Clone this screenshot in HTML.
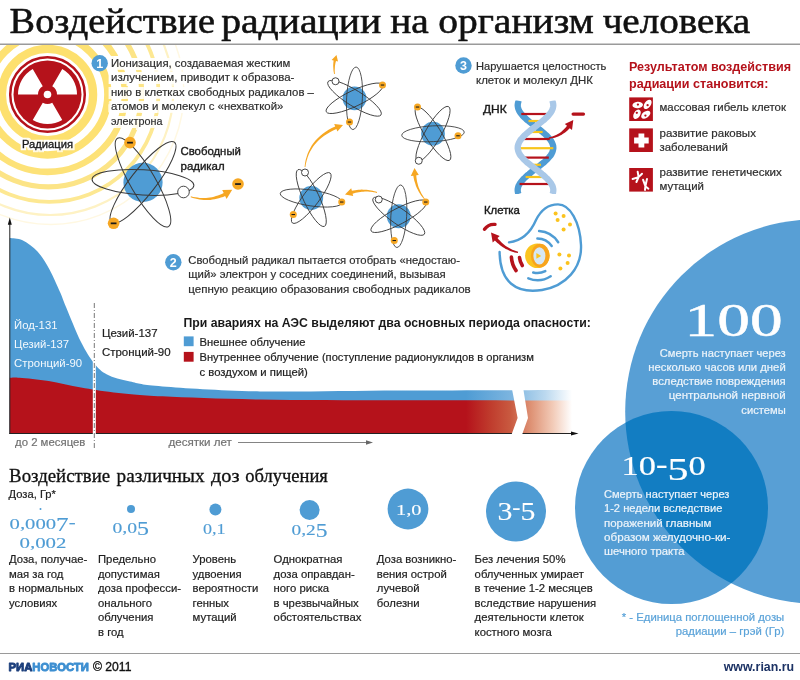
<!DOCTYPE html>
<html lang="ru"><head><meta charset="utf-8"><title>Воздействие радиации на организм человека</title>
<style>
html,body{margin:0;padding:0;background:#fff}
svg{display:block}
.ss{font-family:"Liberation Sans",sans-serif}
.sr{font-family:"Liberation Serif",serif}
</style></head><body>
<svg width="800" height="680" viewBox="0 0 800 680">
<defs>
<clipPath id="cpRings"><rect x="0" y="45" width="330" height="260"/></clipPath>
<filter id="halo" color-interpolation-filters="sRGB" x="-5%" y="-30%" width="110%" height="160%"><feMorphology in="SourceAlpha" operator="dilate" radius="2.2" result="d"/><feFlood flood-color="#fff"/><feComposite in2="d" operator="in" result="h"/><feMerge><feMergeNode in="h"/><feMergeNode in="SourceGraphic"/></feMerge></filter>
<filter id="halo3" color-interpolation-filters="sRGB" x="-5%" y="-40%" width="110%" height="180%"><feMorphology in="SourceAlpha" operator="dilate" radius="2.9" result="d"/><feFlood flood-color="#fff"/><feComposite in2="d" operator="in" result="h"/><feMerge><feMergeNode in="h"/><feMergeNode in="SourceGraphic"/></feMerge></filter>
</defs>
<rect width="800" height="680" fill="#fff"/>
<g clip-path="url(#cpRings)" fill="none">
<circle cx="47.5" cy="94.5" r="45.6" stroke="#fde06e" stroke-width="8.3"/>
<circle cx="47.5" cy="94.5" r="60.4" stroke="#fde172" stroke-width="7.5"/>
<circle cx="47.5" cy="94.5" r="77.4" stroke="#fde278" stroke-width="6.6"/>
<circle cx="48.4" cy="93.6" r="93.3" stroke="#fce486" stroke-width="5.2"/>
<circle cx="49.3" cy="92.7" r="109.2" stroke="#fde892" stroke-width="3.8"/>
<circle cx="50.1" cy="91.9" r="123.1" stroke="#fef2c4" stroke-width="2.2"/>
<circle cx="50.7" cy="91.3" r="133.2" stroke="#fff8e2" stroke-width="1.5"/>
</g>
<text class="sr" y="32.9" font-size="35.3" fill="#111" stroke="#111" stroke-width="0.55"><tspan x="9.6" textLength="205.5" lengthAdjust="spacingAndGlyphs">Воздействие</tspan> <tspan x="221.2" textLength="160" lengthAdjust="spacingAndGlyphs">радиации</tspan> <tspan x="390.2" textLength="38.5" lengthAdjust="spacingAndGlyphs">на</tspan> <tspan x="438.2" textLength="155.5" lengthAdjust="spacingAndGlyphs">организм</tspan> <tspan x="602.7" textLength="147.5" lengthAdjust="spacingAndGlyphs">человека</tspan></text>
<rect x="0" y="43.5" width="800" height="1.5" fill="#9a9a9a"/>
<g>
<circle cx="47.5" cy="94.5" r="37.3" fill="none" stroke="#b5121b" stroke-width="2.5"/>
<circle cx="47.5" cy="94.5" r="34" fill="#b5121b"/>
<path fill="#fff" d="M77.00,94.50 A29.5,29.5 0 0 0 62.25,68.95 L52.25,86.27 A9.5,9.5 0 0 1 57.00,94.50 Z"/>
<path fill="#fff" d="M32.75,68.95 A29.5,29.5 0 0 0 18.00,94.50 L38.00,94.50 A9.5,9.5 0 0 1 42.75,86.27 Z"/>
<path fill="#fff" d="M32.75,120.05 A29.5,29.5 0 0 0 62.25,120.05 L52.25,102.73 A9.5,9.5 0 0 1 42.75,102.73 Z"/>
<circle cx="47.5" cy="94.5" r="3.8" fill="#fff"/>
</g>
<text class="ss" x="47.5" y="148.2" font-size="11.5" fill="#1a1a1a" text-anchor="middle" textLength="50.9" lengthAdjust="spacingAndGlyphs" stroke="#1a1a1a" stroke-width="0.35" filter="url(#halo)">Радиация</text>
<circle cx="99.7" cy="63.3" r="8.2" fill="#4f9cd4"/>
<text class="ss" x="99.7" y="67.7" font-size="12.5" fill="#fff" text-anchor="middle" font-weight="bold" >1</text>
<circle cx="173.3" cy="262.2" r="8.2" fill="#4f9cd4"/>
<text class="ss" x="173.3" y="266.59999999999997" font-size="12.5" fill="#fff" text-anchor="middle" font-weight="bold" >2</text>
<circle cx="463.5" cy="65.5" r="8.2" fill="#4f9cd4"/>
<text class="ss" x="463.5" y="69.9" font-size="12.5" fill="#fff" text-anchor="middle" font-weight="bold" >3</text>
<text class="ss" x="111.0" y="66.9" font-size="11.5" fill="#2e2e2e" textLength="179.4" lengthAdjust="spacingAndGlyphs" stroke="#2e2e2e" stroke-width="0.2" filter="url(#halo3)">Ионизация, создаваемая жестким</text>
<text class="ss" x="111.0" y="81.30000000000001" font-size="11.5" fill="#2e2e2e" textLength="183.4" lengthAdjust="spacingAndGlyphs" stroke="#2e2e2e" stroke-width="0.2" filter="url(#halo3)">излучением, приводит к образова-</text>
<text class="ss" x="111.0" y="95.7" font-size="11.5" fill="#2e2e2e" textLength="202.9" lengthAdjust="spacingAndGlyphs" stroke="#2e2e2e" stroke-width="0.2" filter="url(#halo3)">нию в клетках свободных радикалов –</text>
<text class="ss" x="111.0" y="110.10000000000001" font-size="11.5" fill="#2e2e2e" textLength="172.4" lengthAdjust="spacingAndGlyphs" stroke="#2e2e2e" stroke-width="0.2" filter="url(#halo3)">атомов и молекул с «нехваткой»</text>
<text class="ss" x="111.0" y="124.5" font-size="11.5" fill="#2e2e2e" textLength="51.4" lengthAdjust="spacingAndGlyphs" stroke="#2e2e2e" stroke-width="0.2" filter="url(#halo3)">электрона</text>
<text class="ss" x="188.3" y="263.9" font-size="11.5" fill="#2e2e2e" textLength="271.8" lengthAdjust="spacingAndGlyphs" stroke="#2e2e2e" stroke-width="0.2" >Свободный радикал пытается отобрать «недостаю-</text>
<text class="ss" x="188.3" y="278.2" font-size="11.5" fill="#2e2e2e" textLength="257.4" lengthAdjust="spacingAndGlyphs" stroke="#2e2e2e" stroke-width="0.2" >щий» электрон у соседних соединений, вызывая</text>
<text class="ss" x="188.3" y="292.5" font-size="11.5" fill="#2e2e2e" textLength="282.4" lengthAdjust="spacingAndGlyphs" stroke="#2e2e2e" stroke-width="0.2" >цепную реакцию образования свободных радикалов</text>
<text class="ss" x="476.0" y="69.8" font-size="11.5" fill="#2e2e2e" textLength="130.4" lengthAdjust="spacingAndGlyphs" stroke="#2e2e2e" stroke-width="0.2" >Нарушается целостность</text>
<text class="ss" x="476.0" y="83.9" font-size="11.5" fill="#2e2e2e" textLength="117.0" lengthAdjust="spacingAndGlyphs" stroke="#2e2e2e" stroke-width="0.2" >клеток и молекул ДНК</text>
<circle cx="143" cy="182.4" r="19.6" fill="#4f9cd4"/>
<ellipse cx="143" cy="182.4" rx="51" ry="12.6" fill="none" stroke="#3a3a3a" stroke-width="1.0" transform="rotate(3.5 143 182.4)"/>
<ellipse cx="143" cy="182.4" rx="51" ry="12.6" fill="none" stroke="#3a3a3a" stroke-width="1.0" transform="rotate(60 143 182.4)"/>
<ellipse cx="143" cy="182.4" rx="51" ry="12.6" fill="none" stroke="#3a3a3a" stroke-width="1.0" transform="rotate(-52 143 182.4)"/>
<circle cx="130" cy="142.6" r="5.8" fill="#f6a723"/>
<rect x="127.10" y="141.79" width="5.80" height="1.74" fill="#1a1a1a"/>
<circle cx="113.6" cy="223.3" r="5.8" fill="#f6a723"/>
<rect x="110.70" y="222.49" width="5.80" height="1.74" fill="#1a1a1a"/>
<circle cx="183.5" cy="192" r="5.8" fill="#fff" stroke="#333" stroke-width="0.9"/>
<text class="ss" x="180.5" y="155.4" font-size="11.4" fill="#1a1a1a" textLength="60.4" lengthAdjust="spacingAndGlyphs" stroke="#1a1a1a" stroke-width="0.35">Свободный</text>
<text class="ss" x="180.5" y="170.2" font-size="11.4" fill="#1a1a1a" textLength="44.2" lengthAdjust="spacingAndGlyphs" stroke="#1a1a1a" stroke-width="0.35">радикал</text>
<polygon fill="#f6a723" points="190.7,197.3 192.9,198.0 195.1,198.6 197.3,199.1 199.5,199.5 201.6,199.7 203.8,199.9 206.0,200.0 208.2,200.0 210.3,199.9 212.5,199.6 214.6,199.3 216.7,198.8 218.8,198.3 221.0,197.6 223.1,196.9 225.1,196.0 226.6,199.0 232.2,189.8 222.2,190.0 223.7,192.9 221.8,193.9 219.9,194.7 217.9,195.5 216.0,196.1 214.0,196.7 212.0,197.2 210.0,197.5 208.0,197.8 206.0,198.0 203.9,198.0 201.8,198.0 199.7,197.9 197.5,197.6 195.3,197.3 193.2,196.9 190.9,196.3"/>
<circle cx="238" cy="184" r="5.8" fill="#f6a723"/>
<rect x="235.10" y="183.19" width="5.80" height="1.74" fill="#1a1a1a"/>
<circle cx="354.5" cy="98.3" r="11.9" fill="#4f9cd4"/>
<ellipse cx="354.5" cy="98.3" rx="31.3" ry="7.9" fill="none" stroke="#3a3a3a" stroke-width="0.85" transform="rotate(93 354.5 98.3)"/>
<ellipse cx="354.5" cy="98.3" rx="31.3" ry="7.9" fill="none" stroke="#3a3a3a" stroke-width="0.85" transform="rotate(32 354.5 98.3)"/>
<ellipse cx="354.5" cy="98.3" rx="31.3" ry="7.9" fill="none" stroke="#3a3a3a" stroke-width="0.85" transform="rotate(-25.5 354.5 98.3)"/>
<circle cx="382.5" cy="85" r="3.5" fill="#f6a723"/>
<rect x="380.75" y="84.51" width="3.50" height="1.05" fill="#1a1a1a"/>
<circle cx="349.5" cy="122" r="3.5" fill="#f6a723"/>
<rect x="347.75" y="121.51" width="3.50" height="1.05" fill="#1a1a1a"/>
<circle cx="335.5" cy="81.25" r="3.5" fill="#fff" stroke="#333" stroke-width="0.9"/>
<circle cx="433" cy="133.75" r="11.9" fill="#4f9cd4"/>
<ellipse cx="433" cy="133.75" rx="31.3" ry="7.9" fill="none" stroke="#3a3a3a" stroke-width="0.85" transform="rotate(-3 433 133.75)"/>
<ellipse cx="433" cy="133.75" rx="31.3" ry="7.9" fill="none" stroke="#3a3a3a" stroke-width="0.85" transform="rotate(58 433 133.75)"/>
<ellipse cx="433" cy="133.75" rx="31.3" ry="7.9" fill="none" stroke="#3a3a3a" stroke-width="0.85" transform="rotate(-60 433 133.75)"/>
<circle cx="417.5" cy="107" r="3.5" fill="#f6a723"/>
<rect x="415.75" y="106.51" width="3.50" height="1.05" fill="#1a1a1a"/>
<circle cx="458" cy="135.75" r="3.5" fill="#f6a723"/>
<rect x="456.25" y="135.26" width="3.50" height="1.05" fill="#1a1a1a"/>
<circle cx="418.75" cy="160.75" r="3.5" fill="#fff" stroke="#333" stroke-width="0.9"/>
<circle cx="311.25" cy="198" r="11.9" fill="#4f9cd4"/>
<ellipse cx="311.25" cy="198" rx="31.3" ry="7.9" fill="none" stroke="#3a3a3a" stroke-width="0.85" transform="rotate(8.5 311.25 198)"/>
<ellipse cx="311.25" cy="198" rx="31.3" ry="7.9" fill="none" stroke="#3a3a3a" stroke-width="0.85" transform="rotate(65 311.25 198)"/>
<ellipse cx="311.25" cy="198" rx="31.3" ry="7.9" fill="none" stroke="#3a3a3a" stroke-width="0.85" transform="rotate(-53 311.25 198)"/>
<circle cx="305" cy="172.5" r="3.5" fill="#fff" stroke="#333" stroke-width="0.9"/>
<circle cx="341.75" cy="202" r="3.5" fill="#f6a723"/>
<rect x="340.00" y="201.51" width="3.50" height="1.05" fill="#1a1a1a"/>
<circle cx="293.25" cy="214.5" r="3.5" fill="#f6a723"/>
<rect x="291.50" y="214.01" width="3.50" height="1.05" fill="#1a1a1a"/>
<circle cx="398.75" cy="216.25" r="11.9" fill="#4f9cd4"/>
<ellipse cx="398.75" cy="216.25" rx="31.3" ry="7.9" fill="none" stroke="#3a3a3a" stroke-width="0.85" transform="rotate(93.5 398.75 216.25)"/>
<ellipse cx="398.75" cy="216.25" rx="31.3" ry="7.9" fill="none" stroke="#3a3a3a" stroke-width="0.85" transform="rotate(35 398.75 216.25)"/>
<ellipse cx="398.75" cy="216.25" rx="31.3" ry="7.9" fill="none" stroke="#3a3a3a" stroke-width="0.85" transform="rotate(-28 398.75 216.25)"/>
<circle cx="378.75" cy="199.5" r="3.5" fill="#fff" stroke="#333" stroke-width="0.9"/>
<circle cx="425.75" cy="202" r="3.5" fill="#f6a723"/>
<rect x="424.00" y="201.51" width="3.50" height="1.05" fill="#1a1a1a"/>
<circle cx="394.25" cy="240.5" r="3.5" fill="#f6a723"/>
<rect x="392.50" y="240.01" width="3.50" height="1.05" fill="#1a1a1a"/>
<polygon fill="#f6a723" points="334.9,73.9 334.8,73.1 334.8,72.2 334.7,71.4 334.7,70.6 334.7,69.7 334.8,68.9 334.8,68.1 334.9,67.3 334.9,66.5 335.0,65.7 335.1,64.9 335.3,64.1 335.4,63.3 335.6,62.5 335.8,61.8 336.0,61.0 338.0,61.4 336.5,55.0 331.6,60.1 333.6,60.5 333.5,61.4 333.4,62.2 333.3,63.0 333.3,63.9 333.2,64.7 333.2,65.6 333.2,66.4 333.3,67.2 333.3,68.1 333.4,68.9 333.4,69.8 333.5,70.6 333.6,71.5 333.8,72.3 333.9,73.2 334.1,74.1"/>
<polygon fill="#f6a723" points="305.4,167.0 305.9,163.7 306.7,160.6 307.6,157.5 308.7,154.6 310.0,151.8 311.5,149.2 313.2,146.6 315.0,144.2 317.0,141.9 319.2,139.7 321.6,137.7 324.2,135.7 327.0,133.9 329.9,132.2 333.1,130.6 336.4,129.1 337.4,131.4 343.0,125.0 334.2,124.1 335.2,126.4 331.8,128.0 328.6,129.8 325.6,131.7 322.8,133.8 320.1,135.9 317.7,138.2 315.5,140.5 313.5,143.0 311.7,145.6 310.1,148.4 308.7,151.2 307.5,154.1 306.5,157.2 305.6,160.3 305.0,163.6 304.6,167.0"/>
<polygon fill="#f6a723" points="377.1,192.1 375.6,191.6 374.2,191.2 372.7,190.8 371.1,190.5 369.6,190.2 368.1,190.0 366.5,189.8 364.9,189.7 363.3,189.7 361.7,189.6 360.1,189.7 358.5,189.8 356.9,190.0 355.2,190.2 353.5,190.4 351.9,190.8 351.2,188.3 345.0,194.5 353.2,196.1 352.6,193.7 354.1,193.2 355.7,192.8 357.2,192.5 358.8,192.2 360.3,192.0 361.9,191.8 363.4,191.7 364.9,191.6 366.4,191.6 367.9,191.6 369.4,191.7 370.9,191.8 372.4,192.0 373.9,192.2 375.4,192.5 376.9,192.9"/>
<polygon fill="#f6a723" points="424.8,198.7 423.9,197.4 423.0,196.1 422.2,194.7 421.4,193.4 420.7,192.0 420.0,190.5 419.4,189.1 418.8,187.7 418.3,186.2 417.9,184.7 417.5,183.2 417.1,181.7 416.8,180.1 416.6,178.5 416.4,177.0 416.3,175.3 418.8,175.1 414.5,168.0 410.8,175.9 413.3,175.7 413.6,177.4 413.9,179.0 414.3,180.7 414.8,182.3 415.3,183.8 415.8,185.4 416.4,186.9 417.1,188.4 417.8,189.8 418.5,191.3 419.4,192.7 420.2,194.1 421.1,195.4 422.1,196.7 423.1,198.0 424.2,199.3"/>
<defs><clipPath id="cpDNA"><rect x="500" y="100.6" width="80" height="93.4"/></clipPath><clipPath id="cpLight"><circle cx="817.5" cy="411.4" r="192.3"/></clipPath></defs>
<g clip-path="url(#cpDNA)">
<polyline fill="none" stroke="#4f9cd4" stroke-width="6.3" points="518.7,100.6 518.3,101.8 518.0,102.9 517.8,104.1 517.7,105.3 517.8,106.4 518.0,107.6 518.3,108.8 518.8,109.9 519.3,111.1 520.0,112.3 520.9,113.4 521.8,114.6 522.8,115.8 523.9,116.9 525.2,118.1 526.4,119.3 527.8,120.4 529.2,121.6 530.7,122.8 532.2,123.9 533.7,125.1 535.2,126.3 536.8,127.5 538.3,128.6 539.8,129.8 541.3,131.0 542.7,132.1 544.1,133.3 545.4,134.5 546.6,135.6 547.8,136.8 548.8,138.0 549.8,139.1 550.7,140.3 551.4,141.5 552.0,142.6 552.5,143.8 552.9,145.0 553.2,146.1 553.3,147.3 553.3,148.5 553.1,149.6 552.8,150.8 552.4,152.0 551.9,153.1 551.3,154.3 550.5,155.5 549.6,156.6 548.6,157.8 547.5,159.0 546.3,160.1 545.1,161.3 543.8,162.5 542.4,163.6 540.9,164.8 539.4,166.0 537.9,167.1 536.4,168.3 534.9,169.5 533.3,170.6 531.8,171.8 530.3,173.0 528.9,174.2 527.5,175.3 526.1,176.5 524.9,177.7 523.7,178.8 522.6,180.0 521.6,181.2 520.7,182.3 519.9,183.5 519.2,184.7 518.6,185.8 518.2,187.0 517.9,188.2 517.7,189.3 517.7,190.5 517.8,191.7 518.0,192.8 518.4,194.0"/>
<rect x="521.3" y="112.9" width="28.4" height="2.2" fill="#b5121b"/>
<rect x="528.5" y="119.9" width="14.1" height="2.2" fill="#f8c51c"/>
<rect x="528.5" y="130.9" width="14.1" height="2.2" fill="#f8c51c"/>
<rect x="521.3" y="137.9" width="28.4" height="2.2" fill="#b5121b"/>
<rect x="517.7" y="147.1" width="35.6" height="2.2" fill="#f8c51c"/>
<rect x="522.2" y="156.5" width="26.6" height="2.2" fill="#b5121b"/>
<rect x="530.1" y="163.7" width="10.9" height="2.2" fill="#f8c51c"/>
<rect x="525.6" y="175.9" width="19.8" height="2.2" fill="#f8c51c"/>
<rect x="519.6" y="182.9" width="31.9" height="2.2" fill="#b5121b"/>
<polyline fill="none" stroke="#a9c8e8" stroke-width="6.3" points="552.3,100.6 552.7,101.8 553.0,102.9 553.2,104.1 553.3,105.3 553.2,106.4 553.0,107.6 552.7,108.8 552.2,109.9 551.7,111.1 551.0,112.3 550.1,113.4 549.2,114.6 548.2,115.8 547.1,116.9 545.8,118.1 544.6,119.3 543.2,120.4 541.8,121.6 540.3,122.8 538.8,123.9 537.3,125.1 535.8,126.3 534.2,127.5 532.7,128.6 531.2,129.8 529.7,131.0 528.3,132.1 526.9,133.3 525.6,134.5 524.4,135.6 523.2,136.8 522.2,138.0 521.2,139.1 520.3,140.3 519.6,141.5 519.0,142.6 518.5,143.8 518.1,145.0 517.8,146.1 517.7,147.3 517.7,148.5 517.9,149.6 518.2,150.8 518.6,152.0 519.1,153.1 519.7,154.3 520.5,155.5 521.4,156.6 522.4,157.8 523.5,159.0 524.7,160.1 525.9,161.3 527.2,162.5 528.6,163.6 530.1,164.8 531.6,166.0 533.1,167.1 534.6,168.3 536.1,169.5 537.7,170.6 539.2,171.8 540.7,173.0 542.1,174.2 543.5,175.3 544.9,176.5 546.1,177.7 547.3,178.8 548.4,180.0 549.4,181.2 550.3,182.3 551.1,183.5 551.8,184.7 552.4,185.8 552.8,187.0 553.1,188.2 553.3,189.3 553.3,190.5 553.2,191.7 553.0,192.8 552.6,194.0"/>
</g>
<text class="ss" x="483.0" y="113" font-size="11.5" fill="#1a1a1a" textLength="23.7" lengthAdjust="spacingAndGlyphs" stroke="#1a1a1a" stroke-width="0.4">ДНК</text>
<polygon fill="#b5121b" points="549.1,138.7 550.5,138.5 552.0,138.3 553.4,138.0 554.8,137.7 556.1,137.2 557.5,136.8 558.8,136.2 560.1,135.6 561.4,134.9 562.7,134.1 563.9,133.3 565.1,132.4 566.3,131.5 567.5,130.4 568.7,129.3 569.8,128.2 572.0,130.1 573.3,120.0 564.8,123.9 567.0,125.8 566.1,127.0 565.2,128.1 564.2,129.1 563.2,130.1 562.1,131.0 561.1,131.9 560.0,132.7 558.9,133.4 557.8,134.1 556.6,134.7 555.4,135.3 554.2,135.8 552.9,136.3 551.6,136.7 550.3,137.0 548.9,137.3"/>
<rect x="571.5" y="112.5" width="13.6" height="3.2" rx="1.6" fill="#b5121b"/>
<text class="ss" x="484.0" y="214.4" font-size="11.5" fill="#1a1a1a" textLength="35.9" lengthAdjust="spacingAndGlyphs" stroke="#1a1a1a" stroke-width="0.4">Клетка</text>
<path fill="none" stroke="#4f9cd4" stroke-width="2.4" stroke-linecap="round" d="M509,242.4 C520,241 530,234 536,220 C541,210 548,204.4 558,204.4 C570,204.4 580,222 581,245 C582,268 566,286 542,290 C516,294 500,282 499.6,252"/>
<circle cx="537.4" cy="255.7" r="12.3" fill="#fbc41f"/>
<ellipse cx="540.2" cy="255.7" rx="9.3" ry="11.9" fill="#f8a41d"/>
<ellipse cx="539.4" cy="255.9" rx="6" ry="8.6" fill="#d6e7f4"/>
<polygon points="536.4,253 541.2,255.9 536.4,258.8" fill="#fbc41f"/>
<path fill="none" stroke="#4f9cd4" stroke-width="2.5" stroke-linecap="round" d="M537.4,238.4 A17.3,17.3 0 0 1 551.7,246.0"/>
<path fill="none" stroke="#4f9cd4" stroke-width="2.5" stroke-linecap="round" d="M539.1,231.0 A24.8,24.8 0 0 1 558.2,242.2"/>
<path fill="none" stroke="#4f9cd4" stroke-width="2.5" stroke-linecap="round" d="M545.3,271.1 A17.3,17.3 0 0 1 533.2,272.5"/>
<path fill="none" stroke="#4f9cd4" stroke-width="2.5" stroke-linecap="round" d="M550.7,276.2 A24.4,24.4 0 0 1 528.3,278.3"/>
<path fill="none" stroke="#b5121b" stroke-width="3.6" stroke-linecap="round" d="M522.3,265.5 A18,18 0 0 1 519.5,257.6"/>
<path fill="none" stroke="#b5121b" stroke-width="3.6" stroke-linecap="round" d="M516.1,270.6 A26,26 0 0 1 511.4,257.1"/>
<path fill="none" stroke="#b5121b" stroke-width="3.4" stroke-linecap="round" d="M484.5,229.3 A11.6,11.6 0 0 1 495.0,224.4"/>
<polygon fill="#b5121b" points="518.1,251.7 516.7,251.3 515.2,250.8 513.8,250.3 512.3,249.7 511.0,249.0 509.6,248.3 508.3,247.6 507.0,246.7 505.7,245.9 504.5,244.9 503.3,243.9 502.1,242.9 500.9,241.8 499.8,240.6 498.6,239.4 497.5,238.1 499.7,236.1 491.0,232.6 492.7,242.5 494.9,240.5 496.1,241.8 497.4,243.0 498.8,244.1 500.1,245.2 501.5,246.2 502.9,247.2 504.3,248.1 505.7,248.9 507.2,249.6 508.6,250.3 510.1,250.9 511.6,251.5 513.2,252.0 514.7,252.4 516.3,252.8 517.9,253.1"/>
<circle cx="555.6" cy="213.6" r="2" fill="#fbc31e"/>
<circle cx="563.6" cy="216" r="2" fill="#fbc31e"/>
<circle cx="557.6" cy="220" r="2" fill="#fbc31e"/>
<circle cx="570" cy="224.4" r="2" fill="#fbc31e"/>
<circle cx="563.6" cy="229.6" r="2" fill="#fbc31e"/>
<circle cx="559.4" cy="254.4" r="2" fill="#fbc31e"/>
<circle cx="569" cy="255.6" r="2" fill="#fbc31e"/>
<circle cx="567.6" cy="263" r="2" fill="#fbc31e"/>
<circle cx="560.4" cy="268.4" r="2" fill="#fbc31e"/>
<text class="ss" x="629.0" y="71.4" font-size="12.5" fill="#b5121b" font-weight="bold" textLength="162.1" lengthAdjust="spacingAndGlyphs" >Результатом воздействия</text>
<text class="ss" x="629.0" y="87.8" font-size="12.5" fill="#b5121b" font-weight="bold" textLength="139.4" lengthAdjust="spacingAndGlyphs" >радиации становится:</text>
<rect x="629.2" y="97.4" width="23.7" height="23.6" fill="#b5121b"/>
<rect x="629.2" y="128.4" width="23.7" height="23.6" fill="#b5121b"/>
<rect x="629.2" y="168" width="23.7" height="23.6" fill="#b5121b"/>
<ellipse cx="637.7" cy="105" rx="5.3" ry="3.2" fill="#fff" transform="rotate(-5 637.7 105)"/>
<circle cx="637.9" cy="104.6" r="1.15" fill="#b5121b"/>
<ellipse cx="647.6" cy="104.4" rx="5.3" ry="3.1" fill="#fff" transform="rotate(-54 647.6 104.4)"/>
<circle cx="647.6" cy="105.2" r="1.15" fill="#b5121b"/>
<ellipse cx="637" cy="114.3" rx="5.1" ry="3.2" fill="#fff" transform="rotate(-59 637 114.3)"/>
<circle cx="636.8" cy="112.8" r="1.15" fill="#b5121b"/>
<ellipse cx="645.8" cy="114.7" rx="5.2" ry="3.2" fill="#fff" transform="rotate(-36 645.8 114.7)"/>
<circle cx="645.4" cy="115.6" r="1.15" fill="#b5121b"/>
<path fill="#fff" d="M638.5,133.6 h5.8 v3.9 h4.4 v6.1 h-4.4 v3.8 h-5.8 v-3.8 h-4.4 v-6.1 h4.4z"/>
<g stroke="#fff" stroke-width="2" stroke-linecap="round" fill="none"><path d="M638.6,177.1 L637.7,171.8 M638.6,177.1 L642,173.7 M638.6,177.1 L632.6,179 M638.6,177.1 L636.4,182"/><path d="M645.4,186.2 L643.1,179.8 M645.4,186.2 L647,178.9 M645.4,186.2 L645,189.9 M645.4,186.2 L648.4,188.7"/></g>
<text class="ss" x="659.5" y="110.5" font-size="11.5" fill="#2e2e2e" textLength="126.4" lengthAdjust="spacingAndGlyphs" stroke="#2e2e2e" stroke-width="0.2" >массовая гибель клеток</text>
<text class="ss" x="659.5" y="136.7" font-size="11.5" fill="#2e2e2e" textLength="96.4" lengthAdjust="spacingAndGlyphs" stroke="#2e2e2e" stroke-width="0.2" >развитие раковых</text>
<text class="ss" x="659.5" y="150.5" font-size="11.5" fill="#2e2e2e" textLength="68.4" lengthAdjust="spacingAndGlyphs" stroke="#2e2e2e" stroke-width="0.2" >заболеваний</text>
<text class="ss" x="659.5" y="175.7" font-size="11.5" fill="#2e2e2e" textLength="122.4" lengthAdjust="spacingAndGlyphs" stroke="#2e2e2e" stroke-width="0.2" >развитие генетических</text>
<text class="ss" x="659.5" y="189.8" font-size="11.5" fill="#2e2e2e" textLength="44.4" lengthAdjust="spacingAndGlyphs" stroke="#2e2e2e" stroke-width="0.2" >мутаций</text>
<defs><linearGradient id="gB" gradientUnits="userSpaceOnUse" x1="466" y1="0" x2="572" y2="0"><stop offset="0" stop-color="#4f9cd4"/><stop offset="0.45" stop-color="#7fb6e0"/><stop offset="0.75" stop-color="#bcd9ef"/><stop offset="1" stop-color="#ffffff"/></linearGradient>
<linearGradient id="gR" gradientUnits="userSpaceOnUse" x1="466" y1="0" x2="572" y2="0"><stop offset="0" stop-color="#b5121b"/><stop offset="0.22" stop-color="#bf3a2c"/><stop offset="0.42" stop-color="#c95a40"/><stop offset="0.62" stop-color="#df9477"/><stop offset="0.82" stop-color="#f2cbb8"/><stop offset="1" stop-color="#ffffff"/></linearGradient></defs>
<path fill="url(#gB)" d="M9.8,238.0 C11.9,238.4 17.9,238.0 22.5,240.2 C27.1,242.5 33.0,246.6 37.5,251.5 C42.0,256.4 45.8,262.8 49.5,269.5 C53.2,276.2 57.2,285.8 60.0,292.0 C62.8,298.2 62.5,298.7 66.0,307.0 C69.5,315.3 76.3,332.7 81.0,342.0 C85.7,351.3 89.7,357.6 94.0,363.0 C98.3,368.4 101.0,371.4 107.0,374.5 C113.0,377.6 120.8,379.6 130.0,381.6 C139.2,383.6 140.8,384.9 162.5,386.5 C184.2,388.1 220.4,390.7 260.0,391.4 C299.6,392.1 347.5,390.7 400.0,390.5 C452.5,390.3 545.8,390.1 575.0,390.0 L575,433.2 L9.75,433.2 Z"/>
<path fill="url(#gR)" d="M9.8,377.7 C11.4,377.7 13.0,377.1 19.5,377.7 C26.0,378.2 38.5,379.4 48.7,381.0 C59.0,382.6 70.2,385.6 81.0,387.5 C91.8,389.4 100.1,390.9 113.7,392.4 C127.3,393.9 138.1,395.1 162.5,396.3 C186.9,397.5 220.4,398.8 260.0,399.5 C299.6,400.2 347.5,400.2 400.0,400.3 C452.5,400.4 545.8,400.4 575.0,400.4 L575,433.2 L9.75,433.2 Z"/>
<rect x="9.3" y="222" width="1" height="212" fill="#222"/>
<polygon fill="#111" points="9.8,217.5 7.8,224.8 11.8,224.8"/>
<rect x="9.3" y="433" width="564" height="1" fill="#222"/>
<polygon fill="#111" points="578.5,433.5 571,431.6 571,435.4"/>
<polygon fill="#fff" points="511.6,387 517.6,418 511,436 521.6,436 528,418 523,387"/>
<line x1="94.3" y1="303" x2="94.3" y2="448" stroke="#fff" stroke-width="3"/>
<line x1="94.3" y1="303" x2="94.3" y2="448" stroke="#777" stroke-width="1" stroke-dasharray="5 2 1 2"/>
<text class="ss" x="14.1" y="329" font-size="11.5" fill="#f4f9fd" textLength="43.4" lengthAdjust="spacingAndGlyphs" stroke="none">Йод-131</text>
<text class="ss" x="14.1" y="347.8" font-size="11.5" fill="#f4f9fd" textLength="55.0" lengthAdjust="spacingAndGlyphs" stroke="none">Цезий-137</text>
<text class="ss" x="14.1" y="367" font-size="11.5" fill="#f4f9fd" textLength="68.0" lengthAdjust="spacingAndGlyphs" stroke="none">Стронций-90</text>
<text class="ss" x="101.9" y="337.1" font-size="11.5" fill="#222" textLength="55.7" lengthAdjust="spacingAndGlyphs" stroke="#222" stroke-width="0.2" >Цезий-137</text>
<text class="ss" x="101.9" y="356" font-size="11.5" fill="#222" textLength="68.7" lengthAdjust="spacingAndGlyphs" stroke="#222" stroke-width="0.2" >Стронций-90</text>
<text class="ss" x="15.0" y="446.2" font-size="11.5" fill="#727272" textLength="70.4" lengthAdjust="spacingAndGlyphs" stroke="#727272" stroke-width="0.2" >до 2 месяцев</text>
<text class="ss" x="168.5" y="446.2" font-size="11.5" fill="#727272" textLength="63.4" lengthAdjust="spacingAndGlyphs" stroke="#727272" stroke-width="0.2" >десятки лет</text>
<rect x="238" y="442" width="130" height="0.9" fill="#777"/>
<polygon fill="#666" points="373,442.5 366,440.3 366,444.7"/>
<text class="ss" x="183.5" y="327.2" font-size="12.5" fill="#1a1a1a" font-weight="bold" textLength="407.4" lengthAdjust="spacingAndGlyphs" >При авариях на АЭС выделяют два основных периода опасности:</text>
<rect x="183.8" y="336.4" width="9.8" height="9.8" fill="#4f9cd4"/>
<rect x="183.8" y="351.9" width="9.8" height="9.8" fill="#b5121b"/>
<text class="ss" x="199.5" y="346.3" font-size="11.5" fill="#222" textLength="105.9" lengthAdjust="spacingAndGlyphs" stroke="#222" stroke-width="0.2" >Внешнее облучение</text>
<text class="ss" x="199.5" y="361" font-size="11.5" fill="#222" textLength="334.4" lengthAdjust="spacingAndGlyphs" stroke="#222" stroke-width="0.2" >Внутреннее облучение (поступление радионуклидов в организм</text>
<text class="ss" x="199.5" y="375.6" font-size="11.5" fill="#222" textLength="108.4" lengthAdjust="spacingAndGlyphs" stroke="#222" stroke-width="0.2" >с воздухом и пищей)</text>
<circle cx="817.5" cy="411.4" r="192.3" fill="#589fd5"/>
<circle cx="671.5" cy="507.5" r="96.5" fill="#539dd4"/>
<circle cx="671.5" cy="507.5" r="96.5" fill="#127dc2" clip-path="url(#cpLight)"/>
<text class="sr" x="684.6" y="335.6" font-size="46" fill="#fff" stroke="#fff" stroke-width="0.5" textLength="98" lengthAdjust="spacingAndGlyphs">100</text>
<text class="ss" x="785.7" y="356.5" font-size="11.5" fill="#edf4fa" text-anchor="end" textLength="125.9" lengthAdjust="spacingAndGlyphs" stroke="#edf4fa" stroke-width="0.2" >Смерть наступает через</text>
<text class="ss" x="785.7" y="370.7" font-size="11.5" fill="#edf4fa" text-anchor="end" textLength="137.4" lengthAdjust="spacingAndGlyphs" stroke="#edf4fa" stroke-width="0.2" >несколько часов или дней</text>
<text class="ss" x="785.7" y="385" font-size="11.5" fill="#edf4fa" text-anchor="end" textLength="133.4" lengthAdjust="spacingAndGlyphs" stroke="#edf4fa" stroke-width="0.2" >вследствие повреждения</text>
<text class="ss" x="785.7" y="399.2" font-size="11.5" fill="#edf4fa" text-anchor="end" textLength="116.9" lengthAdjust="spacingAndGlyphs" stroke="#edf4fa" stroke-width="0.2" >центральной нервной</text>
<text class="ss" x="785.7" y="413.5" font-size="11.5" fill="#edf4fa" text-anchor="end" textLength="44.4" lengthAdjust="spacingAndGlyphs" stroke="#edf4fa" stroke-width="0.2" >системы</text>
<text class="sr" x="621.6" y="475.2" font-size="26.6" fill="#fff" stroke="#fff" stroke-width="0.2" textLength="84" lengthAdjust="spacingAndGlyphs">10<tspan dy="-2.16">-</tspan><tspan dy="6.83" font-size="32.5">5</tspan><tspan dy="-4.68">0</tspan></text>
<text class="ss" x="604.0" y="498" font-size="11.5" fill="#edf4fa" textLength="125.4" lengthAdjust="spacingAndGlyphs" stroke="#edf4fa" stroke-width="0.2" >Смерть наступает через</text>
<text class="ss" x="604.0" y="512.3" font-size="11.5" fill="#edf4fa" textLength="118.4" lengthAdjust="spacingAndGlyphs" stroke="#edf4fa" stroke-width="0.2" >1-2 недели вследствие</text>
<text class="ss" x="604.0" y="526.6" font-size="11.5" fill="#edf4fa" textLength="107.4" lengthAdjust="spacingAndGlyphs" stroke="#edf4fa" stroke-width="0.2" >поражений главным</text>
<text class="ss" x="604.0" y="540.9" font-size="11.5" fill="#edf4fa" textLength="126.4" lengthAdjust="spacingAndGlyphs" stroke="#edf4fa" stroke-width="0.2" >образом желудочно-ки-</text>
<text class="ss" x="604.0" y="555.2" font-size="11.5" fill="#edf4fa" textLength="80.4" lengthAdjust="spacingAndGlyphs" stroke="#edf4fa" stroke-width="0.2" >шечного тракта</text>
<text class="sr" y="481.6" font-size="18.5" fill="#111" stroke="#111" stroke-width="0.3"><tspan x="9.1" textLength="101" lengthAdjust="spacingAndGlyphs">Воздействие</tspan> <tspan x="116.6" textLength="88" lengthAdjust="spacingAndGlyphs">различных</tspan> <tspan x="210.9" textLength="28.6" lengthAdjust="spacingAndGlyphs">доз</tspan> <tspan x="245.3" textLength="82.6" lengthAdjust="spacingAndGlyphs">облучения</tspan></text>
<text class="ss" x="8.5" y="498" font-size="10.5" fill="#222" textLength="47.4" lengthAdjust="spacingAndGlyphs" stroke="#222" stroke-width="0.2" >Доза, Гр*</text>
<circle cx="40.5" cy="509" r="1" fill="#4f9cd4"/>
<circle cx="131" cy="509" r="4" fill="#4f9cd4"/>
<circle cx="215.4" cy="509.4" r="6" fill="#4f9cd4"/>
<circle cx="309.6" cy="510" r="10" fill="#4f9cd4"/>
<circle cx="408" cy="509" r="20.4" fill="#4f9cd4"/>
<circle cx="516" cy="511.5" r="30" fill="#4f9cd4"/>
<text class="sr" x="9.6" y="528.6" font-size="15.2" fill="#4f9cd4" stroke="#4f9cd4" stroke-width="0.12" textLength="66" lengthAdjust="spacingAndGlyphs">0,000<tspan dy="2.67" font-size="18.5">7</tspan><tspan dy="-3.90">-</tspan></text>
<text class="sr" x="19.5" y="547.5" font-size="15.2" fill="#4f9cd4" stroke="#4f9cd4" stroke-width="0.12" textLength="47" lengthAdjust="spacingAndGlyphs">0,002</text>
<text class="sr" x="112.5" y="532.6" font-size="15.2" fill="#4f9cd4" stroke="#4f9cd4" stroke-width="0.12" textLength="36.5" lengthAdjust="spacingAndGlyphs">0,0<tspan dy="2.67" font-size="18.5">5</tspan></text>
<text class="sr" x="203" y="533.6" font-size="15.2" fill="#4f9cd4" stroke="#4f9cd4" stroke-width="0.12" textLength="22.6" lengthAdjust="spacingAndGlyphs">0,1</text>
<text class="sr" x="291.6" y="534.6" font-size="15.2" fill="#4f9cd4" stroke="#4f9cd4" stroke-width="0.12" textLength="36" lengthAdjust="spacingAndGlyphs">0,2<tspan dy="2.67" font-size="18.5">5</tspan></text>
<text class="sr" x="396" y="514.5" font-size="15.2" fill="#fff" stroke="#fff" stroke-width="0.1" textLength="25.5" lengthAdjust="spacingAndGlyphs">1,0</text>
<text class="sr" x="497.4" y="516.2" font-size="21.2" fill="#fff" stroke="#fff" stroke-width="0.1" textLength="38" lengthAdjust="spacingAndGlyphs"><tspan dy="3.73" font-size="25.9">3</tspan><tspan dy="-5.45">-</tspan><tspan dy="5.45" font-size="25.9">5</tspan></text>
<text class="ss" x="9" y="563.0" font-size="11.3" fill="#1e1e1e" stroke="#1e1e1e" stroke-width="0.2" >Доза, получае-</text>
<text class="ss" x="9" y="577.6" font-size="11.3" fill="#1e1e1e" stroke="#1e1e1e" stroke-width="0.2" >мая за год</text>
<text class="ss" x="9" y="592.2" font-size="11.3" fill="#1e1e1e" stroke="#1e1e1e" stroke-width="0.2" >в нормальных</text>
<text class="ss" x="9" y="606.8" font-size="11.3" fill="#1e1e1e" stroke="#1e1e1e" stroke-width="0.2" >условиях</text>
<text class="ss" x="98" y="563.0" font-size="11.3" fill="#1e1e1e" stroke="#1e1e1e" stroke-width="0.2" >Предельно</text>
<text class="ss" x="98" y="577.6" font-size="11.3" fill="#1e1e1e" stroke="#1e1e1e" stroke-width="0.2" >допустимая</text>
<text class="ss" x="98" y="592.2" font-size="11.3" fill="#1e1e1e" stroke="#1e1e1e" stroke-width="0.2" >доза професси-</text>
<text class="ss" x="98" y="606.8" font-size="11.3" fill="#1e1e1e" stroke="#1e1e1e" stroke-width="0.2" >онального</text>
<text class="ss" x="98" y="621.4" font-size="11.3" fill="#1e1e1e" stroke="#1e1e1e" stroke-width="0.2" >облучения</text>
<text class="ss" x="98" y="636.0" font-size="11.3" fill="#1e1e1e" stroke="#1e1e1e" stroke-width="0.2" >в год</text>
<text class="ss" x="192.6" y="563.0" font-size="11.3" fill="#1e1e1e" stroke="#1e1e1e" stroke-width="0.2" >Уровень</text>
<text class="ss" x="192.6" y="577.6" font-size="11.3" fill="#1e1e1e" stroke="#1e1e1e" stroke-width="0.2" >удвоения</text>
<text class="ss" x="192.6" y="592.2" font-size="11.3" fill="#1e1e1e" stroke="#1e1e1e" stroke-width="0.2" >вероятности</text>
<text class="ss" x="192.6" y="606.8" font-size="11.3" fill="#1e1e1e" stroke="#1e1e1e" stroke-width="0.2" >генных</text>
<text class="ss" x="192.6" y="621.4" font-size="11.3" fill="#1e1e1e" stroke="#1e1e1e" stroke-width="0.2" >мутаций</text>
<text class="ss" x="273.6" y="563.0" font-size="11.3" fill="#1e1e1e" stroke="#1e1e1e" stroke-width="0.2" >Однократная</text>
<text class="ss" x="273.6" y="577.6" font-size="11.3" fill="#1e1e1e" stroke="#1e1e1e" stroke-width="0.2" >доза оправдан-</text>
<text class="ss" x="273.6" y="592.2" font-size="11.3" fill="#1e1e1e" stroke="#1e1e1e" stroke-width="0.2" >ного риска</text>
<text class="ss" x="273.6" y="606.8" font-size="11.3" fill="#1e1e1e" stroke="#1e1e1e" stroke-width="0.2" >в чрезвычайных</text>
<text class="ss" x="273.6" y="621.4" font-size="11.3" fill="#1e1e1e" stroke="#1e1e1e" stroke-width="0.2" >обстоятельствах</text>
<text class="ss" x="376.8" y="563.0" font-size="11.3" fill="#1e1e1e" stroke="#1e1e1e" stroke-width="0.2" >Доза возникно-</text>
<text class="ss" x="376.8" y="577.6" font-size="11.3" fill="#1e1e1e" stroke="#1e1e1e" stroke-width="0.2" >вения острой</text>
<text class="ss" x="376.8" y="592.2" font-size="11.3" fill="#1e1e1e" stroke="#1e1e1e" stroke-width="0.2" >лучевой</text>
<text class="ss" x="376.8" y="606.8" font-size="11.3" fill="#1e1e1e" stroke="#1e1e1e" stroke-width="0.2" >болезни</text>
<text class="ss" x="474.6" y="563.0" font-size="11.3" fill="#1e1e1e" stroke="#1e1e1e" stroke-width="0.2" >Без лечения 50%</text>
<text class="ss" x="474.6" y="577.6" font-size="11.3" fill="#1e1e1e" stroke="#1e1e1e" stroke-width="0.2" >облученных умирает</text>
<text class="ss" x="474.6" y="592.2" font-size="11.3" fill="#1e1e1e" stroke="#1e1e1e" stroke-width="0.2" >в течение 1-2 месяцев</text>
<text class="ss" x="474.6" y="606.8" font-size="11.3" fill="#1e1e1e" stroke="#1e1e1e" stroke-width="0.2" >вследствие нарушения</text>
<text class="ss" x="474.6" y="621.4" font-size="11.3" fill="#1e1e1e" stroke="#1e1e1e" stroke-width="0.2" >деятельности клеток</text>
<text class="ss" x="474.6" y="636.0" font-size="11.3" fill="#1e1e1e" stroke="#1e1e1e" stroke-width="0.2" >костного мозга</text>
<text class="ss" x="784.2" y="621" font-size="11.5" fill="#5ba3d9" text-anchor="end" textLength="162.4" lengthAdjust="spacingAndGlyphs" stroke="#5ba3d9" stroke-width="0.2" >* - Единица поглощенной дозы</text>
<text class="ss" x="784.2" y="635.4" font-size="11.5" fill="#5ba3d9" text-anchor="end" textLength="108.4" lengthAdjust="spacingAndGlyphs" stroke="#5ba3d9" stroke-width="0.2" >радиации – грэй (Гр)</text>
<rect x="0" y="653" width="800" height="1" fill="#9a9a9a"/>
<text class="ss" x="8.6" y="670.8" font-size="11.2" font-weight="bold" textLength="80.2" lengthAdjust="spacingAndGlyphs" stroke-width="0.9" stroke-linejoin="round"><tspan fill="#1c3f7c" stroke="#1c3f7c">РИА</tspan><tspan fill="#3d8fd1" stroke="#3d8fd1">НОВОСТИ</tspan></text>
<text class="ss" x="93.0" y="670.8" font-size="12.5" fill="#111" textLength="38.4" lengthAdjust="spacingAndGlyphs" stroke="#111" stroke-width="0.35">© 2011</text>
<text class="ss" x="794.1" y="671" font-size="12.5" fill="#1c3264" text-anchor="end" font-weight="bold" textLength="70.4" lengthAdjust="spacingAndGlyphs" >www.rian.ru</text>
</svg></body></html>
